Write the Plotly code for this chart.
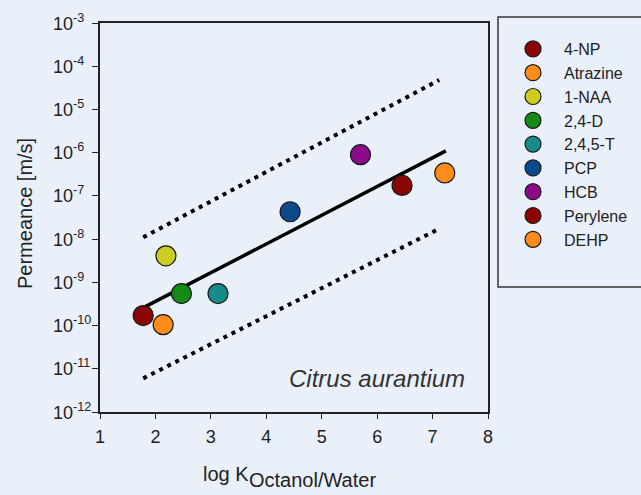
import plotly.graph_objects as go

compounds = ["4-NP", "Atrazine", "1-NAA", "2,4-D", "2,4,5-T", "PCP", "HCB", "Perylene", "DEHP"]
log_kow = [1.78, 2.14, 2.19, 2.47, 3.13, 4.43, 5.70, 6.45, 7.22]
permeance = [1.7e-10, 1.05e-10, 4.1e-9, 5.5e-10, 5.5e-10, 4.3e-8, 9.0e-7, 1.75e-7, 3.4e-7]
colors = ["#8b0505", "#ff8c1a", "#cccc22", "#158a15", "#178a8a", "#0d4a8c", "#8a0a8a", "#8b0505", "#ff8c1a"]

fit_x = [1.81, 7.24]
fit_y = [2.7e-10, 1.1e-6]
upper_x = [1.78, 7.12]
upper_y = [1.1e-8, 4.8e-5]
lower_x = [1.78, 7.09]
lower_y = [6.0e-12, 1.66e-8]

ytick_exps = [-3, -4, -5, -6, -7, -8, -9, -10, -11, -12]
ytick_vals = [10.0 ** e for e in ytick_exps]
ytick_text = ["10<sup>%d</sup>" % e for e in ytick_exps]
xtick_vals = [1, 2, 3, 4, 5, 6, 7, 8]

BG = "#eaf0f9"
FONT = "Liberation Sans, Arial, sans-serif"
TXT = "#222222"

L, R, T, B = 100, 153, 23, 83
PW, PH = 641 - L - R, 495 - T - B


def px_x(p):
    return (p - L) / PW


def px_y(p):
    return (495 - B - p) / PH


fig = go.Figure()
fig.add_trace(go.Scatter(x=upper_x, y=upper_y, mode="lines", showlegend=False,
                         line=dict(color="black", width=4, dash="4px,5px"), hoverinfo="skip"))
fig.add_trace(go.Scatter(x=lower_x, y=lower_y, mode="lines", showlegend=False,
                         line=dict(color="black", width=4, dash="4px,5px"), hoverinfo="skip"))
fig.add_trace(go.Scatter(x=fit_x, y=fit_y, mode="lines", showlegend=False,
                         line=dict(color="black", width=3.5), hoverinfo="skip"))

for name, xv, yv, c in zip(compounds, log_kow, permeance, colors):
    fig.add_trace(go.Scatter(x=[xv], y=[yv], mode="markers", name=name,
                             marker=dict(size=20, color=c, line=dict(color="#1a1a1a", width=1.2))))

# y tick labels (left-aligned like the reference)
for e, v, t in zip(ytick_exps, ytick_vals, ytick_text):
    fig.add_annotation(text=t, xref="paper", yref="y", x=px_x(51), y=e,
                       xanchor="left", yanchor="middle", showarrow=False, yshift=1,
                       font=dict(family=FONT, size=18, color=TXT))

fig.add_annotation(text="Permeance [m/s]", xref="paper", yref="paper", textangle=-90,
                   x=px_x(25), y=px_y(214), xanchor="center", yanchor="middle",
                   showarrow=False, font=dict(family=FONT, size=20, color=TXT))

fig.add_annotation(text="<i>Citrus aurantium</i>", xref="paper", yref="paper",
                   x=px_x(467), y=px_y(378), xanchor="right", yanchor="middle",
                   showarrow=False, font=dict(family=FONT, size=24, color="#333333"))
fig.add_annotation(text="log K", xref="paper", yref="paper",
                   x=px_x(251), y=px_y(474), xanchor="right", yanchor="middle",
                   showarrow=False, font=dict(family=FONT, size=20, color=TXT))
fig.add_annotation(text="Octanol/Water", xref="paper", yref="paper",
                   x=px_x(247), y=px_y(480), xanchor="left", yanchor="middle",
                   showarrow=False, font=dict(family=FONT, size=20, color=TXT))

fig.add_shape(type="rect", xref="paper", yref="paper",
              x0=px_x(498), x1=px_x(700), y0=px_y(287), y1=px_y(17),
              line=dict(color="#333333", width=1.5), fillcolor="rgba(0,0,0,0)")

fig.update_layout(
    width=641, height=495,
    margin=dict(l=L, r=R, t=T, b=B, autoexpand=False),
    paper_bgcolor=BG, plot_bgcolor=BG,
    font=dict(family=FONT, size=16, color=TXT),
    xaxis=dict(range=[1, 8], tickvals=xtick_vals, ticks="outside", ticklen=5, tickcolor="#222",
               showgrid=False, zeroline=False, showline=True, linecolor="#222", linewidth=1.5,
               mirror=True, tickfont=dict(size=18), ticklabelstandoff=3, automargin=False),
    yaxis=dict(type="log", range=[-12, -3], tickvals=ytick_vals, showticklabels=False,
               ticks="outside", ticklen=6, tickcolor="#222",
               showgrid=False, zeroline=False, showline=True, linecolor="#222", linewidth=1.5,
               mirror=True, automargin=False),
    legend=dict(x=px_x(502), y=px_y(32), xanchor="left", yanchor="top",
                bgcolor="rgba(0,0,0,0)", borderwidth=0,
                font=dict(size=16, color=TXT), itemsizing="trace", tracegroupgap=0,
                itemwidth=52),
)

fig.write_html("out.html", config={"displayModeBar": False},
               post_script="document.body.style.margin='0';document.body.style.background='%s';" % BG)
